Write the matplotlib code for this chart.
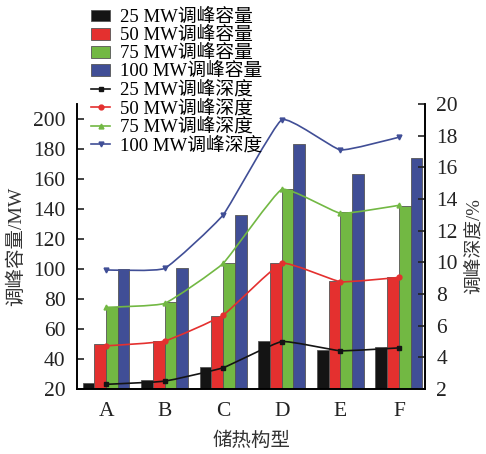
import numpy as np
import matplotlib.pyplot as plt
from matplotlib.path import Path
from matplotlib.patches import PathPatch

plt.rcParams['font.family'] = ['Liberation Serif', 'Noto Sans CJK SC']

# Data
groups = ['A', 'B', 'C', 'D', 'E', 'F']
cap_25 = [24, 26, 35, 52, 46, 48]
cap_50 = [50, 52, 69, 104, 92, 95]
cap_75 = [75, 78, 104, 153, 138, 142]
cap_100 = [100, 101, 136, 183, 163, 174]
dep_25 = [2.3, 2.5, 3.35, 5.0, 4.42, 4.6]
dep_50 = [4.73, 5.03, 6.67, 9.94, 8.78, 9.05]
dep_75 = [7.16, 7.41, 9.94, 14.6, 13.1, 13.6]
dep_100 = [9.52, 9.62, 13.0, 19.0, 17.1, 17.9]

caps = [cap_25, cap_50, cap_75, cap_100]
deps = [dep_25, dep_50, dep_75, dep_100]
names = ['25 MW', '50 MW', '75 MW', '100 MW']
colors = ['#141414', '#e4302f', '#72b843', '#404e96']
markers = ['s', 'o', '^', 'v']


def smooth_path(x, y, k=16.0):
    # gentle cubic Bezier through the points (low tension)
    x = np.asarray(x, float)
    y = np.asarray(y, float)
    verts = [(x[0], y[0])]
    codes = [Path.MOVETO]
    n = len(x)
    for i in range(n - 1):
        p0 = (x[max(i - 1, 0)], y[max(i - 1, 0)])
        p1 = (x[i], y[i])
        p2 = (x[i + 1], y[i + 1])
        p3 = (x[min(i + 2, n - 1)], y[min(i + 2, n - 1)])
        c1 = (p1[0] + (p2[0] - p0[0]) / k, p1[1] + (p2[1] - p0[1]) / k)
        c2 = (p2[0] - (p3[0] - p1[0]) / k, p2[1] - (p3[1] - p1[1]) / k)
        verts += [c1, c2, p2]
        codes += [Path.CURVE4] * 3
    return Path(verts, codes)


fig = plt.figure(figsize=(4.86, 4.54), dpi=100)
ax = fig.add_axes([0.158, 0.143, 0.717, 0.628])
ax2 = ax.twinx()

x = np.arange(len(groups))
w = 0.2
handles = []
for i, (vals, c, nm) in enumerate(zip(caps, colors, names)):
    b = ax.bar(x + (i - 1.5) * w, vals, w, bottom=0, color=c,
               edgecolor='#555555', linewidth=0.6, label=nm + '调峰容量')
    handles.append(b)

for vals, c, m, nm in zip(deps, colors, markers, names):
    ax2.add_patch(PathPatch(smooth_path(x, vals), facecolor='none',
                            edgecolor=c, linewidth=1.2))
    ax2.plot(x, vals, linestyle='none', color=c, marker=m, markersize=3.5)
    h, = ax2.plot([], [], color=c, marker=m, markersize=3.5,
                  linewidth=1.2, label=nm + '调峰深度')
    handles.append(h)

ax.set_xlim(-0.5, 5.45)
ax.set_ylim(20, 210)
ax2.set_ylim(2, 20)
ax.set_yticks(range(20, 201, 20))
ax2.set_yticks(range(2, 21, 2))
ax.set_xticks(x)
ax.set_xticklabels(groups)

for a in (ax, ax2):
    a.spines['top'].set_visible(False)
    a.tick_params(direction='in', labelsize=15.5, width=1.2, length=5,
                  colors='#222222', pad=8)
    for s in a.spines.values():
        s.set_linewidth(1.2)
ax.tick_params(axis='x', length=0, pad=9)

ax.set_ylabel('调峰容量/MW', fontsize=14, labelpad=6, color='#333333')
ax2.set_ylabel('调峰深度/%', fontsize=13.5, labelpad=5, color='#333333')
ax.set_xlabel('储热构型', fontsize=14, labelpad=8, color='#333333')

leg = fig.legend(handles=handles, loc='upper left',
                 bbox_to_anchor=(0.165, 1.005), frameon=False, fontsize=13.5,
                 handlelength=1.0, handleheight=0.6, labelspacing=0.05,
                 handletextpad=0.5, borderaxespad=0.2)

fig.savefig('out.png', dpi=100)
